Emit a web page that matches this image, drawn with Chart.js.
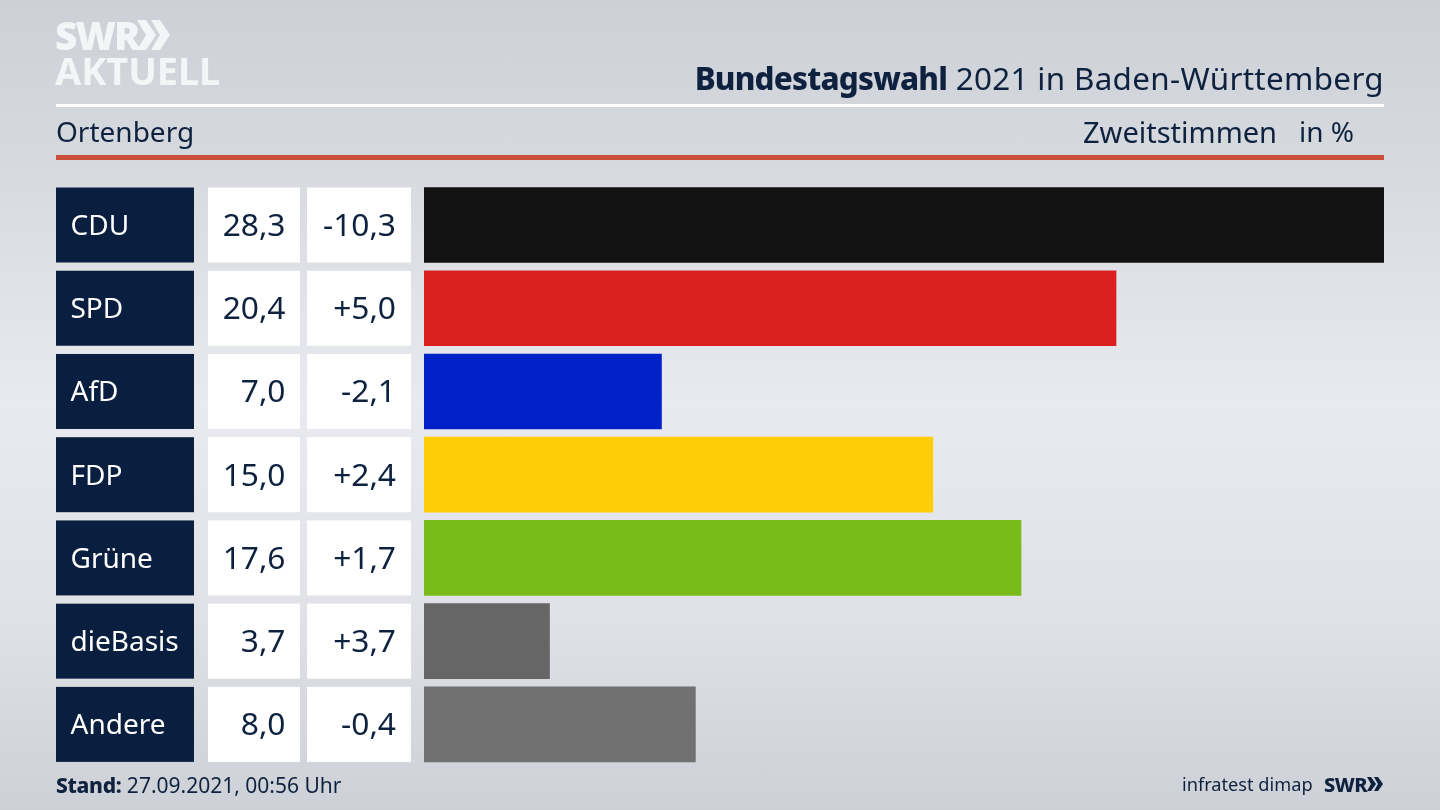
<!DOCTYPE html>
<html lang="de">
<head>
<meta charset="utf-8">
<title>Bundestagswahl 2021 in Baden-Württemberg</title>
<script src="https://cdn.jsdelivr.net/npm/chart.js@4"></script>
<style>
html, body { margin: 0; padding: 0; }
body {
	width: 1440px; height: 810px; overflow: hidden; position: relative;
	background: linear-gradient(180deg, #cdd0d6 0%, #d6d9de 20%, #e9eaef 50%, #e0e2e7 75%, #cdd0d6 100%);
	font-family: "Noto Sans", sans-serif; color: #0e2240;
}
#chartBox { position: absolute; left: 0; top: 0; width: 1440px; height: 810px; }
.txt { position: absolute; white-space: nowrap; line-height: 1; }
.rule { position: absolute; left: 56px; width: 1328px; }
</style>
</head>
<body>
<div id="chartBox"><canvas id="grafico"></canvas></div>

<!-- logo -->
<div class="txt" style="left:55px;top:15px;font-size:39px;font-weight:900;color:#f4f5f7;letter-spacing:-2px">SWR</div>
<svg style="position:absolute;left:137px;top:19px" width="34" height="33">
	<polygon points="0,1 9,1 19,16 9,31 0,31 9,16" fill="#f4f5f7"/>
	<polygon points="14,1 23,1 33,16 23,31 14,31 23,16" fill="#f4f5f7"/>
</svg>
<div class="txt" style="left:55px;top:51px;font-size:38px;font-weight:700;color:#f4f5f7;letter-spacing:-.1px">AKTUELL</div>

<!-- kopf -->
<div class="txt" style="right:56px;top:62px;font-size:31.4px;letter-spacing:.33px"><b style="font-weight:800;letter-spacing:-.8px">Bundestagswahl</b> 2021 in Baden-Württemberg</div>
<div class="rule" style="top:104px;height:3px;background:#fff"></div>
<div class="txt" style="left:56px;top:117px;font-size:28px">Ortenberg</div>
<div class="txt" style="left:1083px;top:117px;font-size:29px">Zweitstimmen</div>
<div class="txt" style="left:1299px;top:117px;font-size:28px">in %</div>
<div class="rule" style="top:155px;height:5px;background:#cc4f3e"></div>

<!-- fuss -->
<div class="txt" style="left:56px;top:775px;font-size:21px"><b style="font-weight:800;letter-spacing:-.3px">Stand:</b> 27.09.2021, 00:56 Uhr</div>
<div class="txt" style="left:1182px;top:775px;font-size:18.2px">infratest dimap</div>
<div class="txt" style="left:1324px;top:775px;font-size:20px;font-weight:800;letter-spacing:-.5px">SWR</div>
<svg style="position:absolute;left:1367px;top:776px" width="17" height="17">
	<polygon points="0,1 4,1 9,8 4,15 0,15 4,8" fill="#0e2240"/>
	<polygon points="7,1 11,1 16,8 11,15 7,15 11,8" fill="#0e2240"/>
</svg>

<script>
var parteien = ["CDU", "SPD", "AfD", "FDP", "Grüne", "dieBasis", "Andere"];
var anteil = [28.3, 20.4, 7.0, 15.0, 17.6, 3.7, 8.0];
var differenz = [-10.3, 5.0, -2.1, 2.4, 1.7, 3.7, -0.4];
var farben = ["#121212", "#da1f1f", "#0020c8", "#ffcc08", "#78bc1a", "#666666", "#717172"];

var fmt = function(v) { return v.toFixed(1).replace(".", ","); };
var fmtDiff = function(v) { return (v > 0 ? "+" : "") + fmt(v); };

//caixas da esquerda: nome, valor e diferenca
var tabela = {
	id: "tabela",
	beforeDraw: function(chart) {
		var ctx = chart.ctx, y = chart.scales.y;
		ctx.save();
		parteien.forEach(function(p, i) {
			var cy = y.getPixelForValue(i), top = cy - 37.5;
			ctx.fillStyle = "#0a1f3f";
			ctx.fillRect(56, top, 138, 75);
			ctx.fillStyle = "#ffffff";
			ctx.fillRect(208, top, 92, 75);
			ctx.fillRect(307, top, 104, 75);
			ctx.fillStyle = "#0e2240";
			ctx.font = "31.7px 'Noto Sans'";
			ctx.textAlign = "right";
			ctx.textBaseline = "middle";
			ctx.fillText(fmt(anteil[i]), 285.5, cy + 2);
			ctx.fillText(fmtDiff(differenz[i]), 396, cy + 2);
		});
		ctx.restore();
	}
};

window.onload = function() {
	var ctx = document.getElementById("grafico").getContext("2d");
	window.meuGrafico = new Chart(ctx, {
		type: "bar",
		data: {
			labels: parteien,
			datasets: [{ data: anteil, backgroundColor: farben, barThickness: 75, borderWidth: 0 }]
		},
		plugins: [tabela],
		options: {
			indexAxis: "y",
			responsive: false,
			animation: false,
			layout: { padding: { left: 70.5, right: 56, top: 183.4, bottom: 44 } },
			plugins: { legend: { display: false }, title: { display: false }, tooltip: { enabled: false } },
			scales: {
				x: { display: false, min: 0, max: 28.3 },
				y: {
					grid: { display: false },
					border: { display: false },
					afterFit: function(s) { s.width = 353.5; },
					ticks: { crossAlign: "far", labelOffset: 2, color: "#ffffff", font: { family: "Noto Sans", size: 28 } }
				}
			}
		}
	});
};
document.getElementById("grafico").width = 1440;
document.getElementById("grafico").height = 810;
</script>
</body>
</html>
